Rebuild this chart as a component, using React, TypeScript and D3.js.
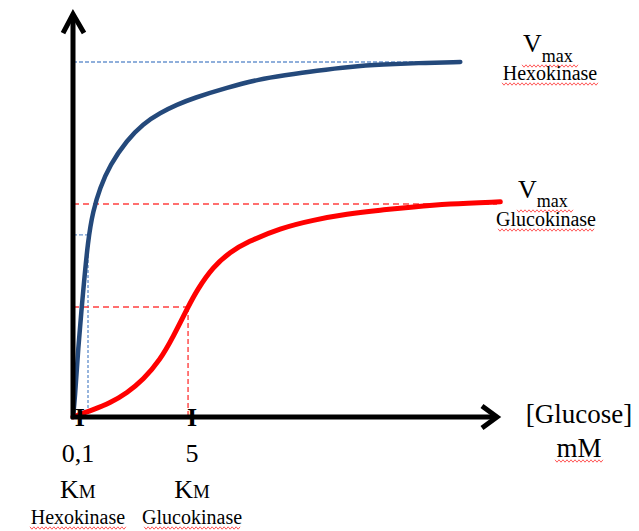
import * as d3 from 'd3';

// glucose in schematic axis units, velocity as fraction of hexokinase Vmax
const hexoX = [0, 0.08, 0.21, 0.42, 0.63, 0.84, 1.13, 1.55, 2.27, 2.94, 3.66, 4.37, 5.04, 6.47, 7.86, 8.82, 10.25, 11.64, 13.03, 14.45, 16.26];
const hexoV = [0, 0.05, 0.19, 0.35, 0.5, 0.58, 0.645, 0.71, 0.78, 0.826, 0.857, 0.88, 0.898, 0.928, 0.952, 0.962, 0.976, 0.987, 0.993, 0.997, 1.0];
const glucoX = [0, 0.84, 1.55, 2.27, 2.94, 3.66, 4.2, 4.83, 5.21, 5.88, 6.6, 7.31, 8.7, 10.08, 11.51, 12.9, 14.29, 15.71, 17.94];
const glucoV = [0, 0.02, 0.039, 0.068, 0.104, 0.161, 0.225, 0.31, 0.358, 0.423, 0.465, 0.493, 0.532, 0.555, 0.572, 0.583, 0.592, 0.6, 0.606];

const vmax = [1.0, 0.6];
const halfV = [0.513, 0.31];
const kmPos = [0.63, 4.83];
const tickPos = [0.29, 5.0];
const tickLabels = ['0,1', '5'];
const enzymes = ['Hexokinase', 'Glucokinase'];

const W = 639;
const H = 531;
const SERIF = '"Liberation Serif", "Times New Roman", serif';
const BLUE = '#24497b';
const RED = '#ff0000';

const x = d3.scaleLinear().domain([0, 17.8]).range([73, 497]);
const y = d3.scaleLinear().domain([0, 1]).range([417, 62]);

function squiggle(x0: number, x1: number, yy: number) {
  const pts: [number, number][] = [];
  let up = true;
  for (let px = x0; px <= x1; px += 2) {
    pts.push([px, yy + (up ? -1.2 : 1.2)]);
    up = !up;
  }
  return d3.line()(pts) || '';
}

const Squig = ({ x0, x1, yy }: { x0: number; x1: number; yy: number }) => (
  <path d={squiggle(x0, x1, yy)} fill="none" stroke="#ff5a5a" strokeWidth={1} />
);

export default function App() {
  const line = d3
    .line<[number, number]>()
    .x((d) => x(d[0]))
    .y((d) => y(d[1]))
    .curve(d3.curveBasis);

  const hexo = hexoX.map((v, i) => [v, hexoV[i]] as [number, number]);
  const gluco = glucoX.map((v, i) => [v, glucoV[i]] as [number, number]);

  const x0 = x(0);
  const y0 = y(0);
  const yTop = y(1.135);
  const xEnd = x(17.8);

  return (
    <svg
      width={W}
      height={H}
      style={{ position: 'absolute', left: 0, top: 0, background: '#fff' }}
      fontFamily={SERIF}
    >
      {/* vmax dashed guides */}
      <line x1={x0} x2={x(hexoX[hexoX.length - 1])} y1={y(vmax[0])} y2={y(vmax[0])} stroke="#6b95cf" strokeWidth={1.4} strokeDasharray="4 2" />
      <line x1={x0} x2={xEnd} y1={y(vmax[1])} y2={y(vmax[1])} stroke="#ff4040" strokeWidth={1.4} strokeDasharray="6 4" />

      {/* half-max guides */}
      <line x1={x0} x2={x(kmPos[0])} y1={y(halfV[0])} y2={y(halfV[0])} stroke="#6b95cf" strokeWidth={1.4} strokeDasharray="4 2" />
      <line x1={x(kmPos[0])} x2={x(kmPos[0])} y1={y(halfV[0])} y2={y0} stroke="#6b95cf" strokeWidth={1.4} strokeDasharray="3 2" />
      <line x1={x0} x2={x(kmPos[1])} y1={y(halfV[1])} y2={y(halfV[1])} stroke="#ff4040" strokeWidth={1.4} strokeDasharray="6 4" />
      <line x1={x(kmPos[1])} x2={x(kmPos[1])} y1={y(halfV[1])} y2={y0} stroke="#ff4040" strokeWidth={1.4} strokeDasharray="5 3" />

      {/* curves */}
      <path d={line(hexo) || ''} fill="none" stroke={BLUE} strokeWidth={4.5} strokeLinecap="round" />
      <path d={line(gluco) || ''} fill="none" stroke={RED} strokeWidth={5} strokeLinecap="round" />

      {/* axes */}
      <line x1={x0} x2={x0} y1={y0 + 2} y2={yTop + 2} stroke="#000" strokeWidth={5} />
      <line x1={x0 - 2} x2={xEnd - 2} y1={y0} y2={y0} stroke="#000" strokeWidth={5} />
      <path d={`M${x0 - 10},${yTop + 19} L${x0},${yTop} L${x0 + 11},${yTop + 19}`} fill="none" stroke="#000" strokeWidth={5} strokeLinejoin="miter" />
      <path d={`M${xEnd - 15},${y0 - 11} L${xEnd},${y0} L${xEnd - 15},${y0 + 11}`} fill="none" stroke="#000" strokeWidth={5} strokeLinejoin="miter" />

      {/* ticks and labels */}
      {tickPos.map((t, i) => {
        const cx = x(t);
        const lx = i === 0 ? cx - 2 : cx;
        return (
          <g key={i}>
            <text x={cx} y={y0 + 9} textAnchor="middle" fontSize={26} fontWeight="bold" fill="#000">I</text>
            <text x={lx} y={462} textAnchor="middle" fontSize={26} fill="#000">{tickLabels[i]}</text>
            <text x={lx} y={498} textAnchor="middle" fill="#000">
              <tspan fontSize={26}>K</tspan>
              <tspan fontSize={19}>M</tspan>
            </text>
            <text x={lx} y={524} textAnchor="middle" fontSize={20} fill="#000">{enzymes[i]}</text>
            <Squig x0={lx - 48} x1={lx + 48} yy={528} />
          </g>
        );
      })}

      {/* right-side Vmax labels */}
      <text x={523} y={52} fill="#000">
        <tspan fontSize={26}>V</tspan>
        <tspan fontSize={18} dy={10}>max</tspan>
      </text>
      <Squig x0={522} x1={578} yy={66} />
      <text x={550} y={80} textAnchor="middle" fontSize={20} fill="#000">Hexokinase</text>
      <Squig x0={502} x1={598} yy={84} />

      <text x={518} y={198} fill="#000">
        <tspan fontSize={26}>V</tspan>
        <tspan fontSize={18} dy={9}>max</tspan>
      </text>
      <Squig x0={517} x1={573} yy={211} />
      <text x={546} y={226} textAnchor="middle" fontSize={20} fill="#000">Glucokinase</text>
      <Squig x0={498} x1={594} yy={230} />

      {/* x axis title */}
      <text x={579} y={423} textAnchor="middle" fontSize={27} fill="#000">[Glucose]</text>
      <text x={579} y={457} textAnchor="middle" fontSize={27} fill="#000">mM</text>
      <Squig x0={555} x1={603} yy={461} />
    </svg>
  );
}
